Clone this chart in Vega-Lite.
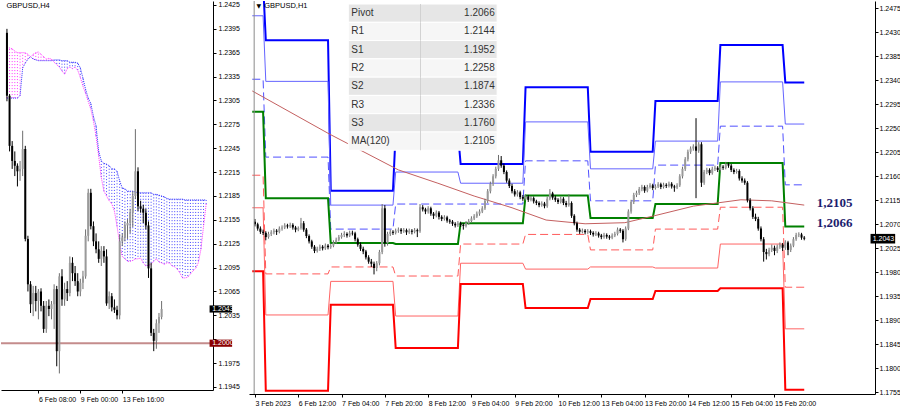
{
"$schema": "https://vega.github.io/schema/vega-lite/v6.json",
"padding": 0,
"background": "white",
"spacing": 0,
"config": {
  "view": {"stroke": null},
  "font": "Liberation Sans",
  "axis": {"grid": false, "title": null, "domainColor": "#000000", "tickColor": "#000000", "labelColor": "#000000", "labelFont": "Liberation Sans", "labelFontSize": 7, "tickSize": 3, "domainWidth": 1, "labelFlush": false, "labelOverlap": false}
},
"datasets": {
  "one": [{}],
  "h4": [
    {"i":-12,"o":1.2390,"h":1.2395,"l":1.2304,"c":1.2311},
    {"i":-11,"o":1.2311,"h":1.2313,"l":1.2241,"c":1.2248},
    {"i":-10,"o":1.2248,"h":1.2254,"l":1.2219,"c":1.2229},
    {"i":-9,"o":1.2229,"h":1.2241,"l":1.2210,"c":1.2223},
    {"i":-8,"o":1.2223,"h":1.2226,"l":1.2197,"c":1.2216},
    {"i":-7,"o":1.2216,"h":1.2229,"l":1.2204,"c":1.2219},
    {"i":-6,"o":1.2219,"h":1.2267,"l":1.2210,"c":1.2244},
    {"i":-5,"o":1.2244,"h":1.2248,"l":1.2128,"c":1.2131},
    {"i":-4,"o":1.2131,"h":1.2135,"l":1.2065,"c":1.2074},
    {"i":-3,"o":1.2074,"h":1.2078,"l":1.2038,"c":1.2049},
    {"i":-2,"o":1.2049,"h":1.2072,"l":1.2034,"c":1.2063},
    {"i":-1,"o":1.2063,"h":1.2072,"l":1.2040,"c":1.2053},
    {"i":0,"o":1.2053,"h":1.2068,"l":1.2030,"c":1.2065},
    {"i":1,"o":1.2065,"h":1.2069,"l":1.2040,"c":1.2047},
    {"i":2,"o":1.2047,"h":1.2053,"l":1.2013,"c":1.2018},
    {"i":3,"o":1.2018,"h":1.2053,"l":1.2013,"c":1.2047},
    {"i":4,"o":1.2047,"h":1.2055,"l":1.2034,"c":1.2043},
    {"i":5,"o":1.2043,"h":1.2053,"l":1.2030,"c":1.2049},
    {"i":6,"o":1.2049,"h":1.2074,"l":1.2018,"c":1.2068},
    {"i":7,"o":1.2068,"h":1.2072,"l":1.1971,"c":1.1990},
    {"i":8,"o":1.1990,"h":1.2088,"l":1.1962,"c":1.2084},
    {"i":9,"o":1.2084,"h":1.2093,"l":1.2047,"c":1.2055},
    {"i":10,"o":1.2055,"h":1.2076,"l":1.2047,"c":1.2068},
    {"i":11,"o":1.2068,"h":1.2078,"l":1.2053,"c":1.2063},
    {"i":12,"o":1.2063,"h":1.2109,"l":1.2059,"c":1.2101},
    {"i":13,"o":1.2101,"h":1.2108,"l":1.2078,"c":1.2088},
    {"i":14,"o":1.2088,"h":1.2097,"l":1.2072,"c":1.2078},
    {"i":15,"o":1.2078,"h":1.2088,"l":1.2059,"c":1.2065},
    {"i":16,"o":1.2065,"h":1.2081,"l":1.2059,"c":1.2076},
    {"i":17,"o":1.2076,"h":1.2091,"l":1.2068,"c":1.2084},
    {"i":18,"o":1.2084,"h":1.2143,"l":1.2081,"c":1.2135},
    {"i":19,"o":1.2135,"h":1.2194,"l":1.2128,"c":1.2189},
    {"i":20,"o":1.2189,"h":1.2194,"l":1.2143,"c":1.2147},
    {"i":21,"o":1.2147,"h":1.2153,"l":1.2122,"c":1.2128},
    {"i":22,"o":1.2128,"h":1.2138,"l":1.2113,"c":1.2118},
    {"i":23,"o":1.2118,"h":1.2128,"l":1.2101,"c":1.2106},
    {"i":24,"o":1.2106,"h":1.2122,"l":1.2097,"c":1.2116},
    {"i":25,"o":1.2116,"h":1.2122,"l":1.2101,"c":1.2109},
    {"i":26,"o":1.2109,"h":1.2118,"l":1.2047,"c":1.2050},
    {"i":27,"o":1.2050,"h":1.2065,"l":1.2043,"c":1.2059},
    {"i":28,"o":1.2059,"h":1.2063,"l":1.2040,"c":1.2045},
    {"i":29,"o":1.2045,"h":1.2055,"l":1.2038,"c":1.2042},
    {"i":30,"o":1.2042,"h":1.2047,"l":1.2030,"c":1.2035},
    {"i":31,"o":1.2035,"h":1.2137,"l":1.2030,"c":1.2128},
    {"i":32,"o":1.2128,"h":1.2138,"l":1.2122,"c":1.2133},
    {"i":33,"o":1.2133,"h":1.2153,"l":1.2128,"c":1.2148},
    {"i":34,"o":1.2148,"h":1.2156,"l":1.2131,"c":1.2151},
    {"i":35,"o":1.2151,"h":1.2169,"l":1.2138,"c":1.2164},
    {"i":36,"o":1.2164,"h":1.2191,"l":1.2146,"c":1.2185},
    {"i":37,"o":1.2185,"h":1.2269,"l":1.2181,"c":1.2216},
    {"i":38,"o":1.2216,"h":1.2221,"l":1.2166,"c":1.2172},
    {"i":39,"o":1.2172,"h":1.2179,"l":1.2164,"c":1.2169},
    {"i":40,"o":1.2169,"h":1.2174,"l":1.2151,"c":1.2164},
    {"i":41,"o":1.2164,"h":1.2169,"l":1.2143,"c":1.2148},
    {"i":42,"o":1.2148,"h":1.2153,"l":1.2082,"c":1.2094},
    {"i":43,"o":1.2094,"h":1.2101,"l":1.2009,"c":1.2013},
    {"i":44,"o":1.2013,"h":1.2018,"l":1.1990,"c":1.2003},
    {"i":45,"o":1.2003,"h":1.2030,"l":1.1993,"c":1.2025},
    {"i":46,"o":1.2025,"h":1.2038,"l":1.2013,"c":1.2033},
    {"i":47,"o":1.2033,"h":1.2053,"l":1.2030,"c":1.2043}
  ],
  "cloud": [
    {"i":-12,"a":1.2308,"b":1.2371},{"i":-11,"a":1.2308,"b":1.2371},{"i":-10,"a":1.2308,"b":1.2370},
    {"i":-9,"a":1.2308,"b":1.2367},{"i":-8,"a":1.2308,"b":1.2365},{"i":-7,"a":1.2311,"b":1.2365},
    {"i":-6,"a":1.2346,"b":1.2365},{"i":-5,"a":1.2352,"b":1.2365},{"i":-4,"a":1.2357,"b":1.2363},
    {"i":-3,"a":1.2360,"b":1.2360},{"i":-2,"a":1.2357,"b":1.2363},{"i":-1,"a":1.2356,"b":1.2365},
    {"i":0,"a":1.2355,"b":1.2366},{"i":1,"a":1.2355,"b":1.2363},{"i":2,"a":1.2355,"b":1.2360},
    {"i":3,"a":1.2355,"b":1.2357},{"i":4,"a":1.2355,"b":1.2358},{"i":5,"a":1.2355,"b":1.2357},
    {"i":6,"a":1.2356,"b":1.2353},{"i":7,"a":1.2356,"b":1.2350},{"i":8,"a":1.2356,"b":1.2347},
    {"i":9,"a":1.2355,"b":1.2342},{"i":10,"a":1.2355,"b":1.2338},{"i":11,"a":1.2355,"b":1.2345},
    {"i":12,"a":1.2353,"b":1.2347},{"i":13,"a":1.2353,"b":1.2345},{"i":14,"a":1.2353,"b":1.2347},
    {"i":15,"a":1.2352,"b":1.2343},{"i":16,"a":1.2346,"b":1.2334},{"i":17,"a":1.2333,"b":1.2323},
    {"i":18,"a":1.2319,"b":1.2314},{"i":19,"a":1.2308,"b":1.2304},{"i":20,"a":1.2301,"b":1.2294},
    {"i":21,"a":1.2285,"b":1.2279},{"i":22,"a":1.2273,"b":1.2260},{"i":23,"a":1.2241,"b":1.2235},
    {"i":24,"a":1.2229,"b":1.2208},{"i":25,"a":1.2226,"b":1.2191},{"i":26,"a":1.2225,"b":1.2185},
    {"i":27,"a":1.2223,"b":1.2179},{"i":28,"a":1.2219,"b":1.2175},{"i":29,"a":1.2219,"b":1.2166},
    {"i":30,"a":1.2216,"b":1.2147},{"i":31,"a":1.2204,"b":1.2125},{"i":32,"a":1.2195,"b":1.2109},
    {"i":33,"a":1.2194,"b":1.2106},{"i":34,"a":1.2191,"b":1.2103},{"i":35,"a":1.2191,"b":1.2103},
    {"i":36,"a":1.2191,"b":1.2104},{"i":37,"a":1.2190,"b":1.2106},{"i":38,"a":1.2189,"b":1.2106},
    {"i":39,"a":1.2189,"b":1.2107},{"i":40,"a":1.2189,"b":1.2101},{"i":41,"a":1.2189,"b":1.2097},
    {"i":42,"a":1.2189,"b":1.2098},{"i":43,"a":1.2189,"b":1.2099},{"i":44,"a":1.2187,"b":1.2103},
    {"i":45,"a":1.2187,"b":1.2106},{"i":46,"a":1.2186,"b":1.2102},{"i":47,"a":1.2185,"b":1.2101},
    {"i":48,"a":1.2184,"b":1.2099},{"i":49,"a":1.2182,"b":1.2101},{"i":50,"a":1.2181,"b":1.2101},
    {"i":51,"a":1.2181,"b":1.2097},{"i":52,"a":1.2181,"b":1.2096},{"i":53,"a":1.2181,"b":1.2093},
    {"i":54,"a":1.2181,"b":1.2088},{"i":55,"a":1.2181,"b":1.2082},{"i":56,"a":1.2180,"b":1.2082},
    {"i":57,"a":1.2180,"b":1.2083},{"i":58,"a":1.2180,"b":1.2087},{"i":59,"a":1.2180,"b":1.2091},
    {"i":60,"a":1.2180,"b":1.2094},{"i":61,"a":1.2180,"b":1.2101},{"i":62,"a":1.2180,"b":1.2118},
    {"i":63,"a":1.2180,"b":1.2147},{"i":64,"a":1.2180,"b":1.2175}
  ],
  "h1": [
    {"i":0,"o":1.2075,"h":1.2080,"l":1.2066,"c":1.2070},
    {"i":1,"o":1.2070,"h":1.2073,"l":1.2058,"c":1.2062},
    {"i":2,"o":1.2062,"h":1.2066,"l":1.2052,"c":1.2056},
    {"i":3,"o":1.2056,"h":1.2060,"l":1.2050,"c":1.2054},
    {"i":4,"o":1.2054,"h":1.2057,"l":1.2040,"c":1.2046},
    {"i":5,"o":1.2046,"h":1.2056,"l":1.2043,"c":1.2052},
    {"i":6,"o":1.2052,"h":1.2059,"l":1.2048,"c":1.2055},
    {"i":7,"o":1.2055,"h":1.2062,"l":1.2051,"c":1.2058},
    {"i":8,"o":1.2058,"h":1.2061,"l":1.2050,"c":1.2056},
    {"i":9,"o":1.2056,"h":1.2066,"l":1.2053,"c":1.2062},
    {"i":10,"o":1.2062,"h":1.2068,"l":1.2058,"c":1.2064},
    {"i":11,"o":1.2064,"h":1.2072,"l":1.2061,"c":1.2068},
    {"i":12,"o":1.2068,"h":1.2071,"l":1.2062,"c":1.2066},
    {"i":13,"o":1.2066,"h":1.2073,"l":1.2063,"c":1.2069},
    {"i":14,"o":1.2069,"h":1.2072,"l":1.2060,"c":1.2064},
    {"i":15,"o":1.2064,"h":1.2067,"l":1.2055,"c":1.2060},
    {"i":16,"o":1.2060,"h":1.2066,"l":1.2057,"c":1.2063},
    {"i":17,"o":1.2063,"h":1.2082,"l":1.2060,"c":1.2072},
    {"i":18,"o":1.2072,"h":1.2076,"l":1.2056,"c":1.2060},
    {"i":19,"o":1.2060,"h":1.2063,"l":1.2044,"c":1.2048},
    {"i":20,"o":1.2048,"h":1.2051,"l":1.2034,"c":1.2038},
    {"i":21,"o":1.2038,"h":1.2041,"l":1.2024,"c":1.2028},
    {"i":22,"o":1.2028,"h":1.2031,"l":1.2016,"c":1.2020},
    {"i":23,"o":1.2020,"h":1.2028,"l":1.2017,"c":1.2024},
    {"i":24,"o":1.2024,"h":1.2032,"l":1.2020,"c":1.2028},
    {"i":25,"o":1.2028,"h":1.2031,"l":1.2021,"c":1.2025},
    {"i":26,"o":1.2025,"h":1.2034,"l":1.2022,"c":1.2030},
    {"i":27,"o":1.2030,"h":1.2033,"l":1.2023,"c":1.2027},
    {"i":28,"o":1.2027,"h":1.2034,"l":1.2024,"c":1.2030},
    {"i":29,"o":1.2030,"h":1.2040,"l":1.2027,"c":1.2036},
    {"i":30,"o":1.2036,"h":1.2045,"l":1.2033,"c":1.2041},
    {"i":31,"o":1.2041,"h":1.2050,"l":1.2038,"c":1.2046},
    {"i":32,"o":1.2046,"h":1.2054,"l":1.2043,"c":1.2050},
    {"i":33,"o":1.2050,"h":1.2057,"l":1.2046,"c":1.2052},
    {"i":34,"o":1.2052,"h":1.2055,"l":1.2045,"c":1.2049},
    {"i":35,"o":1.2049,"h":1.2058,"l":1.2046,"c":1.2054},
    {"i":36,"o":1.2054,"h":1.2058,"l":1.2049,"c":1.2053},
    {"i":37,"o":1.2053,"h":1.2056,"l":1.2038,"c":1.2042},
    {"i":38,"o":1.2042,"h":1.2045,"l":1.2028,"c":1.2032},
    {"i":39,"o":1.2032,"h":1.2036,"l":1.2020,"c":1.2024},
    {"i":40,"o":1.2024,"h":1.2028,"l":1.2014,"c":1.2019},
    {"i":41,"o":1.2019,"h":1.2022,"l":1.2004,"c":1.2008},
    {"i":42,"o":1.2008,"h":1.2012,"l":1.1996,"c":1.2000},
    {"i":43,"o":1.2000,"h":1.2005,"l":1.1990,"c":1.1996},
    {"i":44,"o":1.1996,"h":1.2000,"l":1.1976,"c":1.1988},
    {"i":45,"o":1.1988,"h":1.2001,"l":1.1982,"c":1.1997},
    {"i":46,"o":1.1997,"h":1.2022,"l":1.1993,"c":1.2018},
    {"i":47,"o":1.2018,"h":1.2108,"l":1.2014,"c":1.2100},
    {"i":48,"o":1.2100,"h":1.2106,"l":1.2028,"c":1.2035},
    {"i":49,"o":1.2035,"h":1.2056,"l":1.2030,"c":1.2052},
    {"i":50,"o":1.2052,"h":1.2060,"l":1.2048,"c":1.2056},
    {"i":51,"o":1.2056,"h":1.2059,"l":1.2050,"c":1.2054},
    {"i":52,"o":1.2054,"h":1.2062,"l":1.2051,"c":1.2058},
    {"i":53,"o":1.2058,"h":1.2064,"l":1.2054,"c":1.2060},
    {"i":54,"o":1.2060,"h":1.2063,"l":1.2052,"c":1.2057},
    {"i":55,"o":1.2057,"h":1.2063,"l":1.2054,"c":1.2059},
    {"i":56,"o":1.2059,"h":1.2062,"l":1.2050,"c":1.2055},
    {"i":57,"o":1.2055,"h":1.2062,"l":1.2052,"c":1.2058},
    {"i":58,"o":1.2058,"h":1.2061,"l":1.2051,"c":1.2056},
    {"i":59,"o":1.2056,"h":1.2063,"l":1.2053,"c":1.2059},
    {"i":60,"o":1.2059,"h":1.2062,"l":1.2046,"c":1.2057},
    {"i":61,"o":1.2057,"h":1.2108,"l":1.2054,"c":1.2102},
    {"i":62,"o":1.2102,"h":1.2106,"l":1.2094,"c":1.2098},
    {"i":63,"o":1.2098,"h":1.2101,"l":1.2089,"c":1.2094},
    {"i":64,"o":1.2094,"h":1.2104,"l":1.2090,"c":1.2100},
    {"i":65,"o":1.2100,"h":1.2103,"l":1.2086,"c":1.2090},
    {"i":66,"o":1.2090,"h":1.2093,"l":1.2080,"c":1.2086},
    {"i":67,"o":1.2086,"h":1.2096,"l":1.2083,"c":1.2092},
    {"i":68,"o":1.2092,"h":1.2095,"l":1.2079,"c":1.2084},
    {"i":69,"o":1.2084,"h":1.2087,"l":1.2076,"c":1.2080},
    {"i":70,"o":1.2080,"h":1.2087,"l":1.2077,"c":1.2083},
    {"i":71,"o":1.2083,"h":1.2086,"l":1.2073,"c":1.2077},
    {"i":72,"o":1.2077,"h":1.2080,"l":1.2071,"c":1.2075},
    {"i":73,"o":1.2075,"h":1.2078,"l":1.2067,"c":1.2071},
    {"i":74,"o":1.2071,"h":1.2074,"l":1.2064,"c":1.2068},
    {"i":75,"o":1.2068,"h":1.2076,"l":1.2065,"c":1.2072},
    {"i":76,"o":1.2072,"h":1.2075,"l":1.2065,"c":1.2069},
    {"i":77,"o":1.2069,"h":1.2072,"l":1.2060,"c":1.2067},
    {"i":78,"o":1.2067,"h":1.2076,"l":1.2064,"c":1.2072},
    {"i":79,"o":1.2072,"h":1.2080,"l":1.2069,"c":1.2076},
    {"i":80,"o":1.2076,"h":1.2085,"l":1.2073,"c":1.2081},
    {"i":81,"o":1.2081,"h":1.2089,"l":1.2078,"c":1.2085},
    {"i":82,"o":1.2085,"h":1.2094,"l":1.2082,"c":1.2090},
    {"i":83,"o":1.2090,"h":1.2098,"l":1.2086,"c":1.2094},
    {"i":84,"o":1.2094,"h":1.2104,"l":1.2091,"c":1.2100},
    {"i":85,"o":1.2100,"h":1.2118,"l":1.2097,"c":1.2114},
    {"i":86,"o":1.2114,"h":1.2136,"l":1.2110,"c":1.2132},
    {"i":87,"o":1.2132,"h":1.2150,"l":1.2128,"c":1.2146},
    {"i":88,"o":1.2146,"h":1.2164,"l":1.2142,"c":1.2160},
    {"i":89,"o":1.2160,"h":1.2178,"l":1.2156,"c":1.2174},
    {"i":90,"o":1.2174,"h":1.2200,"l":1.2170,"c":1.2190},
    {"i":91,"o":1.2190,"h":1.2198,"l":1.2176,"c":1.2180},
    {"i":92,"o":1.2180,"h":1.2184,"l":1.2164,"c":1.2168},
    {"i":93,"o":1.2168,"h":1.2171,"l":1.2148,"c":1.2152},
    {"i":94,"o":1.2152,"h":1.2156,"l":1.2138,"c":1.2142},
    {"i":95,"o":1.2142,"h":1.2146,"l":1.2128,"c":1.2132},
    {"i":96,"o":1.2132,"h":1.2136,"l":1.2122,"c":1.2126},
    {"i":97,"o":1.2126,"h":1.2134,"l":1.2122,"c":1.2130},
    {"i":98,"o":1.2130,"h":1.2133,"l":1.2117,"c":1.2121},
    {"i":99,"o":1.2121,"h":1.2125,"l":1.2114,"c":1.2118},
    {"i":100,"o":1.2118,"h":1.2126,"l":1.2115,"c":1.2122},
    {"i":101,"o":1.2122,"h":1.2125,"l":1.2112,"c":1.2116},
    {"i":102,"o":1.2116,"h":1.2123,"l":1.2113,"c":1.2119},
    {"i":103,"o":1.2119,"h":1.2122,"l":1.2109,"c":1.2113},
    {"i":104,"o":1.2113,"h":1.2116,"l":1.2106,"c":1.2110},
    {"i":105,"o":1.2110,"h":1.2113,"l":1.2102,"c":1.2106},
    {"i":106,"o":1.2106,"h":1.2113,"l":1.2103,"c":1.2109},
    {"i":107,"o":1.2109,"h":1.2112,"l":1.2100,"c":1.2104},
    {"i":108,"o":1.2104,"h":1.2122,"l":1.2101,"c":1.2118},
    {"i":109,"o":1.2118,"h":1.2136,"l":1.2115,"c":1.2128},
    {"i":110,"o":1.2128,"h":1.2131,"l":1.2116,"c":1.2120},
    {"i":111,"o":1.2120,"h":1.2124,"l":1.2112,"c":1.2116},
    {"i":112,"o":1.2116,"h":1.2119,"l":1.2108,"c":1.2112},
    {"i":113,"o":1.2112,"h":1.2122,"l":1.2109,"c":1.2118},
    {"i":114,"o":1.2118,"h":1.2121,"l":1.2106,"c":1.2110},
    {"i":115,"o":1.2110,"h":1.2114,"l":1.2102,"c":1.2106},
    {"i":116,"o":1.2106,"h":1.2126,"l":1.2103,"c":1.2110},
    {"i":117,"o":1.2110,"h":1.2113,"l":1.2082,"c":1.2086},
    {"i":118,"o":1.2086,"h":1.2089,"l":1.2068,"c":1.2072},
    {"i":119,"o":1.2072,"h":1.2075,"l":1.2056,"c":1.2060},
    {"i":120,"o":1.2060,"h":1.2063,"l":1.2052,"c":1.2056},
    {"i":121,"o":1.2056,"h":1.2062,"l":1.2053,"c":1.2058},
    {"i":122,"o":1.2058,"h":1.2061,"l":1.2051,"c":1.2055},
    {"i":123,"o":1.2055,"h":1.2061,"l":1.2052,"c":1.2057},
    {"i":124,"o":1.2057,"h":1.2060,"l":1.2050,"c":1.2054},
    {"i":125,"o":1.2054,"h":1.2057,"l":1.2047,"c":1.2051},
    {"i":126,"o":1.2051,"h":1.2057,"l":1.2048,"c":1.2053},
    {"i":127,"o":1.2053,"h":1.2056,"l":1.2045,"c":1.2049},
    {"i":128,"o":1.2049,"h":1.2052,"l":1.2042,"c":1.2046},
    {"i":129,"o":1.2046,"h":1.2054,"l":1.2043,"c":1.2050},
    {"i":130,"o":1.2050,"h":1.2053,"l":1.2043,"c":1.2047},
    {"i":131,"o":1.2047,"h":1.2050,"l":1.2041,"c":1.2045},
    {"i":132,"o":1.2045,"h":1.2053,"l":1.2042,"c":1.2049},
    {"i":133,"o":1.2049,"h":1.2056,"l":1.2046,"c":1.2052},
    {"i":134,"o":1.2052,"h":1.2064,"l":1.2049,"c":1.2060},
    {"i":135,"o":1.2060,"h":1.2063,"l":1.2054,"c":1.2058},
    {"i":136,"o":1.2058,"h":1.2061,"l":1.2036,"c":1.2042},
    {"i":137,"o":1.2042,"h":1.2066,"l":1.2039,"c":1.2062},
    {"i":138,"o":1.2062,"h":1.2098,"l":1.2059,"c":1.2094},
    {"i":139,"o":1.2094,"h":1.2116,"l":1.2090,"c":1.2112},
    {"i":140,"o":1.2112,"h":1.2129,"l":1.2108,"c":1.2125},
    {"i":141,"o":1.2125,"h":1.2133,"l":1.2121,"c":1.2129},
    {"i":142,"o":1.2129,"h":1.2140,"l":1.2125,"c":1.2136},
    {"i":143,"o":1.2136,"h":1.2144,"l":1.2132,"c":1.2140},
    {"i":144,"o":1.2140,"h":1.2143,"l":1.2129,"c":1.2133},
    {"i":145,"o":1.2133,"h":1.2144,"l":1.2130,"c":1.2140},
    {"i":146,"o":1.2140,"h":1.2147,"l":1.2137,"c":1.2143},
    {"i":147,"o":1.2143,"h":1.2146,"l":1.2134,"c":1.2138},
    {"i":148,"o":1.2138,"h":1.2145,"l":1.2135,"c":1.2141},
    {"i":149,"o":1.2141,"h":1.2149,"l":1.2138,"c":1.2145},
    {"i":150,"o":1.2145,"h":1.2148,"l":1.2136,"c":1.2140},
    {"i":151,"o":1.2140,"h":1.2148,"l":1.2137,"c":1.2144},
    {"i":152,"o":1.2144,"h":1.2147,"l":1.2138,"c":1.2142},
    {"i":153,"o":1.2142,"h":1.2150,"l":1.2139,"c":1.2146},
    {"i":154,"o":1.2146,"h":1.2149,"l":1.2137,"c":1.2141},
    {"i":155,"o":1.2141,"h":1.2144,"l":1.2131,"c":1.2139},
    {"i":156,"o":1.2139,"h":1.2147,"l":1.2136,"c":1.2143},
    {"i":157,"o":1.2143,"h":1.2164,"l":1.2140,"c":1.2160},
    {"i":158,"o":1.2160,"h":1.2178,"l":1.2156,"c":1.2174},
    {"i":159,"o":1.2174,"h":1.2196,"l":1.2170,"c":1.2192},
    {"i":160,"o":1.2192,"h":1.2210,"l":1.2188,"c":1.2206},
    {"i":161,"o":1.2206,"h":1.2216,"l":1.2202,"c":1.2212},
    {"i":162,"o":1.2212,"h":1.2220,"l":1.2208,"c":1.2216},
    {"i":163,"o":1.2216,"h":1.2269,"l":1.2119,"c":1.2208},
    {"i":164,"o":1.2208,"h":1.2224,"l":1.2204,"c":1.2220},
    {"i":165,"o":1.2220,"h":1.2224,"l":1.2140,"c":1.2148},
    {"i":166,"o":1.2148,"h":1.2172,"l":1.2144,"c":1.2168},
    {"i":167,"o":1.2168,"h":1.2176,"l":1.2164,"c":1.2172},
    {"i":168,"o":1.2172,"h":1.2175,"l":1.2162,"c":1.2166},
    {"i":169,"o":1.2166,"h":1.2178,"l":1.2163,"c":1.2174},
    {"i":170,"o":1.2174,"h":1.2180,"l":1.2170,"c":1.2176},
    {"i":171,"o":1.2176,"h":1.2179,"l":1.2168,"c":1.2172},
    {"i":172,"o":1.2172,"h":1.2182,"l":1.2169,"c":1.2178},
    {"i":173,"o":1.2178,"h":1.2181,"l":1.2172,"c":1.2176},
    {"i":174,"o":1.2176,"h":1.2187,"l":1.2173,"c":1.2183},
    {"i":175,"o":1.2183,"h":1.2186,"l":1.2176,"c":1.2180},
    {"i":176,"o":1.2180,"h":1.2183,"l":1.2168,"c":1.2172},
    {"i":177,"o":1.2172,"h":1.2175,"l":1.2164,"c":1.2168},
    {"i":178,"o":1.2168,"h":1.2174,"l":1.2165,"c":1.2170},
    {"i":179,"o":1.2170,"h":1.2173,"l":1.2152,"c":1.2156},
    {"i":180,"o":1.2156,"h":1.2160,"l":1.2148,"c":1.2152},
    {"i":181,"o":1.2152,"h":1.2156,"l":1.2144,"c":1.2148},
    {"i":182,"o":1.2148,"h":1.2151,"l":1.2111,"c":1.2115},
    {"i":183,"o":1.2115,"h":1.2119,"l":1.2096,"c":1.2100},
    {"i":184,"o":1.2100,"h":1.2104,"l":1.2080,"c":1.2084},
    {"i":185,"o":1.2084,"h":1.2090,"l":1.2076,"c":1.2080},
    {"i":186,"o":1.2080,"h":1.2084,"l":1.2058,"c":1.2062},
    {"i":187,"o":1.2062,"h":1.2066,"l":1.2038,"c":1.2042},
    {"i":188,"o":1.2042,"h":1.2046,"l":1.2000,"c":1.2018},
    {"i":189,"o":1.2018,"h":1.2024,"l":1.2004,"c":1.2014},
    {"i":190,"o":1.2014,"h":1.2026,"l":1.2010,"c":1.2022},
    {"i":191,"o":1.2022,"h":1.2032,"l":1.2018,"c":1.2026},
    {"i":192,"o":1.2026,"h":1.2030,"l":1.2012,"c":1.2020},
    {"i":193,"o":1.2020,"h":1.2032,"l":1.2016,"c":1.2028},
    {"i":194,"o":1.2028,"h":1.2036,"l":1.2024,"c":1.2032},
    {"i":195,"o":1.2032,"h":1.2035,"l":1.2020,"c":1.2026},
    {"i":196,"o":1.2026,"h":1.2040,"l":1.2022,"c":1.2036},
    {"i":197,"o":1.2036,"h":1.2039,"l":1.2012,"c":1.2022},
    {"i":198,"o":1.2022,"h":1.2034,"l":1.2018,"c":1.2030},
    {"i":199,"o":1.2030,"h":1.2046,"l":1.2027,"c":1.2042},
    {"i":200,"o":1.2042,"h":1.2054,"l":1.2039,"c":1.2050},
    {"i":201,"o":1.2050,"h":1.2055,"l":1.2046,"c":1.2051},
    {"i":202,"o":1.2051,"h":1.2054,"l":1.2041,"c":1.2045},
    {"i":203,"o":1.2045,"h":1.2048,"l":1.2040,"c":1.2043}
  ],
  "piv": [
    {"i":-1,"r3":1.2522,"r2":1.2461,"r1":1.2342,"p":1.2281,"s1":1.2162,"s2":1.2101,"s3":1.1982},
    {"i":3,"r3":1.2522,"r2":1.2461,"r1":1.2342,"p":1.2281,"s1":1.2162,"s2":1.2101,"s3":1.1982},
    {"i":4,"r3":1.2415,"r2":1.2338,"r1":1.2196,"p":1.2119,"s1":1.1977,"s2":1.1900,"s3":1.1758},
    {"i":27,"r3":1.2415,"r2":1.2338,"r1":1.2196,"p":1.2119,"s1":1.1977,"s2":1.1900,"s3":1.1758},
    {"i":28,"r3":1.2133,"r2":1.2106,"r1":1.2061,"p":1.2035,"s1":1.1990,"s2":1.1963,"s3":1.1919},
    {"i":51,"r3":1.2133,"r2":1.2106,"r1":1.2061,"p":1.2035,"s1":1.1990,"s2":1.1963,"s3":1.1919},
    {"i":52,"r3":1.2243,"r2":1.2168,"r1":1.2108,"p":1.2033,"s1":1.1973,"s2":1.1898,"s3":1.1838},
    {"i":75,"r3":1.2243,"r2":1.2168,"r1":1.2108,"p":1.2033,"s1":1.1973,"s2":1.1898,"s3":1.1838},
    {"i":76,"r3":1.2183,"r2":1.2147,"r1":1.2108,"p":1.2072,"s1":1.2033,"s2":1.1997,"s3":1.1958},
    {"i":99,"r3":1.2183,"r2":1.2147,"r1":1.2108,"p":1.2072,"s1":1.2033,"s2":1.1997,"s3":1.1958},
    {"i":100,"r3":1.2327,"r2":1.2262,"r1":1.2189,"p":1.2124,"s1":1.2051,"s2":1.1986,"s3":1.1913},
    {"i":123,"r3":1.2327,"r2":1.2262,"r1":1.2189,"p":1.2124,"s1":1.2051,"s2":1.1986,"s3":1.1913},
    {"i":124,"r3":1.2206,"r2":1.2174,"r1":1.2114,"p":1.2082,"s1":1.2022,"s2":1.1990,"s3":1.1930},
    {"i":147,"r3":1.2206,"r2":1.2174,"r1":1.2114,"p":1.2082,"s1":1.2022,"s2":1.1990,"s3":1.1930},
    {"i":148,"r3":1.2301,"r2":1.2226,"r1":1.2181,"p":1.2108,"s1":1.2061,"s2":1.1988,"s3":1.1945},
    {"i":171,"r3":1.2301,"r2":1.2226,"r1":1.2181,"p":1.2108,"s1":1.2061,"s2":1.1988,"s3":1.1945},
    {"i":172,"r3":1.2406,"r2":1.2337,"r1":1.2254,"p":1.2185,"s1":1.2102,"s2":1.2033,"s3":1.1950},
    {"i":195,"r3":1.2406,"r2":1.2337,"r1":1.2254,"p":1.2185,"s1":1.2102,"s2":1.2033,"s3":1.1950},
    {"i":196,"r3":1.2336,"r2":1.2258,"r1":1.2144,"p":1.2066,"s1":1.1952,"s2":1.1874,"s3":1.1760},
    {"i":203,"r3":1.2336,"r2":1.2258,"r1":1.2144,"p":1.2066,"s1":1.1952,"s2":1.1874,"s3":1.1760}
  ],
  "ma": [
    {"i":-1,"v":1.2320},{"i":27.6,"v":1.2239},{"i":53,"v":1.2172},{"i":67.6,"v":1.2147},
    {"i":81,"v":1.2123},{"i":95,"v":1.2101},{"i":107.6,"v":1.2078},{"i":122,"v":1.2071},
    {"i":136.7,"v":1.2073},{"i":147.6,"v":1.2086},{"i":162,"v":1.2104},{"i":179.6,"v":1.2116},
    {"i":191,"v":1.2114},{"i":203,"v":1.2106}
  ],
  "tbl": [
    {"n":"Pivot","v":"1.2066"},{"n":"R1","v":"1.2144"},{"n":"S1","v":"1.1952"},{"n":"R2","v":"1.2258"},
    {"n":"S2","v":"1.1874"},{"n":"R3","v":"1.2336"},{"n":"S3","v":"1.1760"},{"n":"MA(120)","v":"1.2105"}
  ]
},
"hconcat": [
  {
    "width": 212,
    "height": 389,
    "layer": [
      {"data": {"name": "cloud"},
       "mark": {"type": "rule", "strokeDash": [1, 2], "strokeWidth": 1, "clip": true},
       "encoding": {
         "x": {"field": "i", "type": "quantitative", "scale": {"domain": [-12.36, 64.7], "nice": false, "zero": false},
               "axis": {"values": [0, 16, 32], "labelExpr": "['6 Feb 08:00','9 Feb 00:00','13 Feb 16:00'][datum.value/16]", "labelAlign": "left", "labelPadding": 2, "orient": "bottom", "labelOverlap": false, "tickCount": 40}},
         "y": {"field": "a", "type": "quantitative", "scale": {"domain": [1.19412, 1.2430], "nice": false, "zero": false},
               "axis": {"orient": "right", "values": [1.2425,1.2395,1.2365,1.2335,1.2305,1.2275,1.2245,1.2215,1.2185,1.2155,1.2125,1.2095,1.2065,1.2035,1.2005,1.1975,1.1945], "tickCount": 40, "labelExpr": "abs(datum.value - 1.2005) < 0.0001 ? '' : format(datum.value, '.4f')", "labelPadding": 2, "minExtent": 36, "maxExtent": 36, "labelOverlap": false}},
         "y2": {"field": "b"},
         "color": {"condition": {"test": "datum.a >= datum.b", "value": "#4646ff"}, "value": "#ff3cff"}
       }},
      {"data": {"name": "cloud"},
       "mark": {"type": "line", "strokeDash": [1, 1], "strokeWidth": 1, "color": "#3030ff", "clip": true},
       "encoding": {"x": {"field": "i", "type": "quantitative"}, "y": {"field": "a", "type": "quantitative"}}},
      {"data": {"name": "cloud"},
       "mark": {"type": "line", "strokeDash": [1, 1], "strokeWidth": 1, "color": "#ff30ff", "clip": true},
       "encoding": {"x": {"field": "i", "type": "quantitative"}, "y": {"field": "b", "type": "quantitative"}}},
      {"data": {"name": "one"},
       "mark": {"type": "rule", "color": "#c48c8c", "strokeWidth": 2},
       "encoding": {"y": {"datum": 1.2, "type": "quantitative"}}},
      {"data": {"name": "h4"},
       "mark": {"type": "rule", "strokeWidth": 1},
       "encoding": {
         "x": {"field": "i", "type": "quantitative"},
         "y": {"field": "l", "type": "quantitative"},
         "y2": {"field": "h"},
         "color": {"condition": {"test": "datum.c >= datum.o", "value": "#6e6e6e"}, "value": "#000000"}
       }},
      {"data": {"name": "h4"},
       "mark": {"type": "bar", "width": 2},
       "encoding": {
         "x": {"field": "i", "type": "quantitative"},
         "y": {"field": "o", "type": "quantitative"},
         "y2": {"field": "c"},
         "color": {"condition": {"test": "datum.c >= datum.o", "value": "#9a9a9a"}, "value": "#000000"}
       }},
      {"data": {"name": "one"},
       "mark": {"type": "text", "text": "GBPUSD,H4", "align": "left", "baseline": "middle", "fontSize": 7.5, "color": "#000000"},
       "encoding": {"x": {"datum": -12.2, "type": "quantitative"}, "y": {"datum": 1.2424, "type": "quantitative"}}},
      {"data": {"name": "one"},
       "mark": {"type": "rect", "color": "#000000"},
       "encoding": {"x": {"datum": 65.3, "type": "quantitative"}, "x2": {"datum": 73.9}, "y": {"datum": 1.20475, "type": "quantitative"}, "y2": {"datum": 1.20385}}},
      {"data": {"name": "one"},
       "mark": {"type": "text", "text": "1.2043", "align": "left", "baseline": "middle", "fontSize": 7, "color": "#ffffff"},
       "encoding": {"x": {"datum": 66.3, "type": "quantitative"}, "y": {"datum": 1.2043, "type": "quantitative"}}},
      {"data": {"name": "one"},
       "mark": {"type": "rect", "color": "#8b0000"},
       "encoding": {"x": {"datum": 65.3, "type": "quantitative"}, "x2": {"datum": 73.9}, "y": {"datum": 1.20045, "type": "quantitative"}, "y2": {"datum": 1.19955}}},
      {"data": {"name": "one"},
       "mark": {"type": "text", "text": "1.2000", "align": "left", "baseline": "middle", "fontSize": 7, "color": "#ffffff"},
       "encoding": {"x": {"datum": 66.3, "type": "quantitative"}, "y": {"datum": 1.2, "type": "quantitative"}}}
    ]
  },
  {
    "width": 626,
    "height": 393,
    "resolve": {"scale": {"y": "independent"}, "axis": {"y": "independent"}},
    "layer": [
      {
        "layer": [
          {"data": {"name": "piv"},
           "mark": {"type": "line", "color": "#0000ff", "strokeWidth": 2, "clip": true},
           "encoding": {
             "x": {"field": "i", "type": "quantitative", "scale": {"domain": [-0.36, 227.3], "nice": false, "zero": false},
                   "axis": {"values": [0,16,32,48,64,80,96,112,128,144,160,176,192], "tickCount": 40, "labelExpr": "['3 Feb 2023','6 Feb 12:00','7 Feb 04:00','7 Feb 20:00','8 Feb 12:00','9 Feb 04:00','9 Feb 20:00','10 Feb 12:00','13 Feb 04:00','13 Feb 20:00','14 Feb 12:00','15 Feb 04:00','15 Feb 20:00'][datum.value/16]", "labelAlign": "left", "labelPadding": 2, "orient": "bottom", "labelOverlap": false}},
             "y": {"field": "r3", "type": "quantitative", "scale": {"domain": [1.17518, 1.24887], "nice": false, "zero": false},
                   "axis": {"orient": "right", "values": [1.2475,1.243,1.2385,1.234,1.2295,1.225,1.2205,1.216,1.2115,1.207,1.2025,1.198,1.1935,1.189,1.1845,1.18,1.1755], "tickCount": 40, "format": ".4f", "labelPadding": 1, "labelOverlap": false}}
           }},
          {"data": {"name": "piv"},
           "mark": {"type": "line", "color": "#6464ff", "strokeWidth": 1, "clip": true},
           "encoding": {"x": {"field": "i", "type": "quantitative"}, "y": {"field": "r2", "type": "quantitative"}}},
          {"data": {"name": "piv"},
           "mark": {"type": "line", "color": "#5050ff", "strokeWidth": 1, "strokeDash": [8, 4], "clip": true},
           "encoding": {"x": {"field": "i", "type": "quantitative"}, "y": {"field": "r1", "type": "quantitative"}}},
          {"data": {"name": "piv"},
           "mark": {"type": "line", "color": "#008000", "strokeWidth": 2, "clip": true},
           "encoding": {"x": {"field": "i", "type": "quantitative"}, "y": {"field": "p", "type": "quantitative"}}},
          {"data": {"name": "piv"},
           "mark": {"type": "line", "color": "#ff5a5a", "strokeWidth": 1, "strokeDash": [8, 4], "clip": true},
           "encoding": {"x": {"field": "i", "type": "quantitative"}, "y": {"field": "s1", "type": "quantitative"}}},
          {"data": {"name": "piv"},
           "mark": {"type": "line", "color": "#ff6464", "strokeWidth": 1, "clip": true},
           "encoding": {"x": {"field": "i", "type": "quantitative"}, "y": {"field": "s2", "type": "quantitative"}}},
          {"data": {"name": "piv"},
           "mark": {"type": "line", "color": "#ff0000", "strokeWidth": 2, "clip": true},
           "encoding": {"x": {"field": "i", "type": "quantitative"}, "y": {"field": "s3", "type": "quantitative"}}},
          {"data": {"name": "ma"},
           "mark": {"type": "line", "color": "#c46060", "strokeWidth": 1, "clip": true},
           "encoding": {"x": {"field": "i", "type": "quantitative"}, "y": {"field": "v", "type": "quantitative"}}},
          {"data": {"name": "h1"},
           "mark": {"type": "rule", "strokeWidth": 1},
           "encoding": {
             "x": {"field": "i", "type": "quantitative"},
             "y": {"field": "l", "type": "quantitative"},
             "y2": {"field": "h"},
             "color": {"condition": {"test": "datum.c >= datum.o", "value": "#6e6e6e"}, "value": "#000000"}
           }},
          {"data": {"name": "h1"},
           "mark": {"type": "bar", "width": 2},
           "encoding": {
             "x": {"field": "i", "type": "quantitative"},
             "y": {"field": "o", "type": "quantitative"},
             "y2": {"field": "c"},
             "color": {"condition": {"test": "datum.c >= datum.o", "value": "#9a9a9a"}, "value": "#000000"}
           }},
          {"data": {"name": "one"},
           "mark": {"type": "rule", "color": "#8a8a8a", "strokeWidth": 1},
           "encoding": {"x": {"datum": -0.3, "type": "quantitative"}}},
          {"data": {"name": "one"},
           "mark": {"type": "text", "text": "1,2105", "align": "center", "baseline": "middle", "fontSize": 13, "fontWeight": "bold", "font": "Liberation Serif", "color": "#1c1c6e"},
           "encoding": {"x": {"datum": 214.2, "type": "quantitative"}, "y": {"datum": 1.2109, "type": "quantitative"}}},
          {"data": {"name": "one"},
           "mark": {"type": "text", "text": "1,2066", "align": "center", "baseline": "middle", "fontSize": 13, "fontWeight": "bold", "font": "Liberation Serif", "color": "#1c1c6e"},
           "encoding": {"x": {"datum": 214.2, "type": "quantitative"}, "y": {"datum": 1.20715, "type": "quantitative"}}},
          {"data": {"name": "one"},
           "mark": {"type": "rect", "color": "#000000"},
           "encoding": {"x": {"datum": 227.5, "type": "quantitative"}, "x2": {"datum": 236.6}, "y": {"datum": 1.2052, "type": "quantitative"}, "y2": {"datum": 1.2034}}},
          {"data": {"name": "one"},
           "mark": {"type": "text", "text": "1.2043", "align": "left", "baseline": "middle", "fontSize": 7, "color": "#ffffff"},
           "encoding": {"x": {"datum": 228.3, "type": "quantitative"}, "y": {"datum": 1.2043, "type": "quantitative"}}},
          {"data": {"name": "one"},
           "mark": {"type": "text", "text": "▼", "align": "left", "baseline": "middle", "fontSize": 6, "font": "DejaVu Sans", "color": "#000000"},
           "encoding": {"x": {"datum": 0.6, "type": "quantitative"}, "y": {"datum": 1.2479, "type": "quantitative"}}},
          {"data": {"name": "one"},
           "mark": {"type": "text", "text": "GBPUSD,H1", "align": "left", "baseline": "middle", "fontSize": 7.5, "color": "#000000"},
           "encoding": {"x": {"datum": 3.4, "type": "quantitative"}, "y": {"datum": 1.2479, "type": "quantitative"}}}
        ]
      },
      {
        "data": {"name": "tbl"},
        "layer": [
          {"mark": {"type": "rect", "stroke": "#ffffff", "strokeWidth": 1},
           "encoding": {
             "x": {"datum": 34.5, "type": "quantitative"}, "x2": {"datum": 89.5},
             "y": {"field": "n", "type": "nominal", "scale": {"domain": ["Pivot","R1","S1","R2","S2","R3","S3","MA(120)","~1","~2","~3","~4","~5","~6","~7","~8","~9","~10","~11","~12","~13"], "paddingInner": 0, "paddingOuter": 0.25, "align": 0.33}, "axis": null},
             "color": {"condition": {"test": "indexof(['Pivot','S1','S2','S3'], datum.n) >= 0", "value": "#e6e6e6"}, "value": "#f6f6f6"}
           }},
          {"mark": {"type": "rect", "color": "#d0d0d0"},
           "encoding": {"x": {"datum": 61.0, "type": "quantitative"}, "x2": {"datum": 61.35}, "y": {"field": "n", "type": "nominal"}}},
          {"mark": {"type": "text", "align": "left", "baseline": "middle", "fontSize": 10, "color": "#333333"},
           "encoding": {"x": {"datum": 35.6, "type": "quantitative"}, "y": {"field": "n", "type": "nominal"}, "text": {"field": "n"}}},
          {"mark": {"type": "text", "align": "right", "baseline": "middle", "fontSize": 10, "color": "#333333"},
           "encoding": {"x": {"datum": 88.6, "type": "quantitative"}, "y": {"field": "n", "type": "nominal"}, "text": {"field": "v"}}}
        ]
      }
    ]
  }
]
}
